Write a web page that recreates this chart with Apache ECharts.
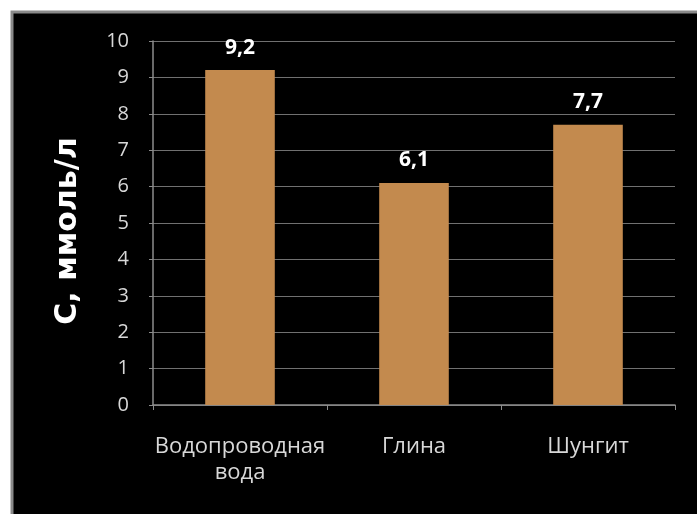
<!DOCTYPE html>
<html><head><meta charset="utf-8">
<script src="https://cdn.jsdelivr.net/npm/echarts@6/dist/echarts.min.js"></script>
<style>html,body{margin:0;padding:0;background:#fff}#c{width:697px;height:514px}</style>
</head><body><div id="c"></div>
<script>
const categories = ['Водопроводная\nвода', 'Глина', 'Шунгит'];
const values = [9.2, 6.1, 7.7];
const valueLabels = ['9,2', '6,1', '7,7'];
const yTicks = [0, 1, 2, 3, 4, 5, 6, 7, 8, 9, 10];

const chart = echarts.init(document.getElementById('c'));
chart.setOption({
  backgroundColor: '#ffffff',
  animation: false,
  graphic: [{
    type: 'rect', z: -100, silent: true,
    shape: { x: 12, y: 12, width: 700, height: 520 },
    style: { fill: '#000000', stroke: '#8a8a8a', lineWidth: 3 }
  }],
  grid: { left: 153, right: 22, top: 41, bottom: 109 },
  xAxis: {
    type: 'category',
    data: categories,
    axisLine: { show: true, lineStyle: { color: '#8c8c8c', width: 1.5 } },
    axisTick: { show: true, alignWithLabel: false, length: 5, lineStyle: { color: '#8c8c8c' } },
    axisLabel: { interval: 0, hideOverlap: false, color: '#d8d8d8', fontSize: 22, fontFamily: 'Open Sans', margin: 29, lineHeight: 26 }
  },
  yAxis: {
    type: 'value', min: yTicks[0], max: yTicks[yTicks.length - 1], interval: 1,
    name: 'С, ммоль/л', nameLocation: 'middle', nameGap: 70,
    nameTextStyle: { color: '#ffffff', fontSize: 30, fontWeight: 'bold', fontFamily: 'DejaVu Sans', padding: [0, 16, 0, 0] },
    axisLine: { show: true, lineStyle: { color: '#8c8c8c', width: 1.5 } },
    axisTick: { show: true, length: 4, lineStyle: { color: '#8c8c8c' } },
    splitLine: { show: true, lineStyle: { color: '#707070', width: 1 } },
    axisLabel: { color: '#d8d8d8', fontSize: 20, fontFamily: 'Open Sans', margin: 24 }
  },
  series: [{
    type: 'bar',
    data: values,
    barWidth: '40%',
    itemStyle: { color: '#c38a4e' },
    label: {
      show: true, position: 'top', distance: 12,
      color: '#ffffff', fontWeight: 'bold', fontSize: 21, fontFamily: 'Open Sans',
      formatter: p => valueLabels[p.dataIndex]
    }
  }]
});
</script></body></html>
